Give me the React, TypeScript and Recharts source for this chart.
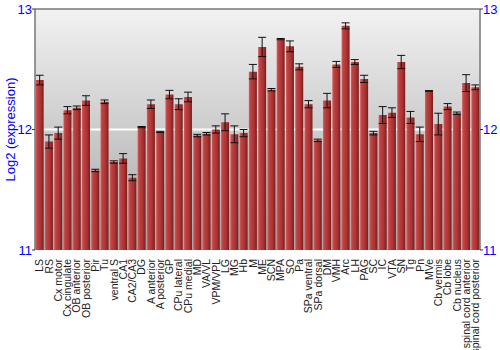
import {
  Bar,
  ComposedChart,
  CartesianGrid,
  ErrorBar,
  Line,
  ReferenceLine,
  XAxis,
  YAxis,
} from "recharts";

const regions = [
  "LS", "RS", "Cx motor", "Cx cingulate", "OB anterior", "OB posterior", "Pir", "Tu",
  "ventral S", "CA1", "CA2/CA3", "DG", "A anterior", "A posterior", "GP", "CPu lateral",
  "CPu medial", "MD", "VA/VL", "VPM/VPL", "LG", "MG", "Hb", "M",
  "ME", "SCN", "MPA", "SO", "Pa", "SPa ventral", "SPa dorsal", "DM",
  "VMH", "Arc", "LH", "PAG", "SC", "IC", "VTA", "SN",
  "Tg", "Pn", "MVe", "Cb vermis", "Cb lobe", "Cb nucleus", "spinal cord anterior", "spinal cord posterior",
];

const means = [
  12.41, 11.9, 11.97, 12.16, 12.18, 12.24, 11.66, 12.23,
  11.73, 11.76, 11.6, 12.02, 12.21, 11.98, 12.29, 12.21,
  12.27, 11.95, 11.965, 12.0, 12.06, 11.96, 11.97, 12.48,
  12.685, 12.33, 12.75, 12.69, 12.52, 12.21, 11.91, 12.24,
  12.54, 12.86, 12.56, 12.42, 11.97, 12.12, 12.14, 12.56,
  12.1, 11.96, 12.32, 12.045, 12.19, 12.135, 12.385, 12.35,
];

const errors = [
  0.04, 0.055, 0.05, 0.03, 0.015, 0.04, 0.01, 0.015,
  0.01, 0.04, 0.025, 0.005, 0.035, 0.005, 0.035, 0.045,
  0.04, 0.01, 0.01, 0.03, 0.07, 0.07, 0.03, 0.06,
  0.08, 0.01, 0.005, 0.045, 0.025, 0.03, 0.01, 0.06,
  0.025, 0.025, 0.02, 0.03, 0.015, 0.07, 0.04, 0.055,
  0.05, 0.06, 0.003, 0.09, 0.025, 0.01, 0.07, 0.02,
];

const yTicks = [11, 12, 13];

const data = regions.map((name, i) => ({ name, value: means[i], err: errors[i] }));

function RegionTick(props: any) {
  const { x, y, payload } = props;
  return (
    <text
      x={x}
      y={y}
      transform={`rotate(-90, ${x}, ${y})`}
      textAnchor="end"
      dy="0.36em"
      fontSize={10.5}
      fill="#222"
      fontFamily="Liberation Sans, Arial, sans-serif"
    >
      {payload.value}
    </text>
  );
}

export default function App() {
  return (
    <div style={{ position: "absolute", left: 0, top: 0, fontFamily: "Liberation Sans, Arial, sans-serif" }}>
      <ComposedChart
        width={500}
        height={350}
        data={data}
        margin={{ top: 9, right: 0, left: 0, bottom: 0 }}
        barCategoryGap="7%"
      >
        <defs>
          <linearGradient id="bgGrad" x1="0" y1="0" x2="0" y2="1">
            <stop offset="0%" stopColor="#f2f2f2" />
            <stop offset="100%" stopColor="#a6a6a6" />
          </linearGradient>
          <linearGradient id="barGrad" x1="0" y1="0" x2="1" y2="0">
            <stop offset="0%" stopColor="#d46060" />
            <stop offset="20%" stopColor="#c04242" />
            <stop offset="65%" stopColor="#a83232" />
            <stop offset="100%" stopColor="#7a1c1c" />
          </linearGradient>
        </defs>
        <CartesianGrid
          yAxisId="left"
          vertical={false}
          fill="url(#bgGrad)"
          stroke="#ffffff"
          strokeWidth={2}
          horizontalValues={[12]}
        />
        <XAxis
          dataKey="name"
          interval={0}
          height={100}
          tick={<RegionTick />}
          tickLine={false}
          axisLine={false}
          tickMargin={3}
        />
        <YAxis
          yAxisId="left"
          orientation="left"
          domain={[11, 13]}
          allowDataOverflow
          ticks={yTicks}
          width={35}
          tick={{ fill: "#0000ff", fontSize: 13 }}
          tickLine={{ stroke: "#333" }}
          tickSize={3}
          tickMargin={0}
          axisLine={{ stroke: "#777", strokeWidth: 1.5 }}
          label={{
            value: "Log2 (expression)",
            angle: -90,
            position: "insideLeft",
            offset: 10,
            fill: "#0000ff",
            fontSize: 13,
            style: { textAnchor: "middle" },
          }}
        />
        <YAxis
          yAxisId="right"
          orientation="right"
          domain={[11, 13]}
          allowDataOverflow
          ticks={yTicks}
          width={20}
          tick={{ fill: "#0000ff", fontSize: 13 }}
          tickLine={{ stroke: "#333" }}
          tickSize={3}
          tickMargin={0}
          axisLine={{ stroke: "#777", strokeWidth: 1.5 }}
        />
        <ReferenceLine yAxisId="left" y={13} stroke="#777" strokeWidth={1.5} />
        <Bar
          yAxisId="left"
          dataKey="value"
          fill="url(#barGrad)"
          isAnimationActive={false}
        >
          <ErrorBar dataKey="err" width={4} stroke="#111" strokeWidth={1} />
        </Bar>
        <Line
          yAxisId="right"
          dataKey="value"
          stroke="none"
          dot={false}
          activeDot={false}
          legendType="none"
          isAnimationActive={false}
        />
      </ComposedChart>
    </div>
  );
}
